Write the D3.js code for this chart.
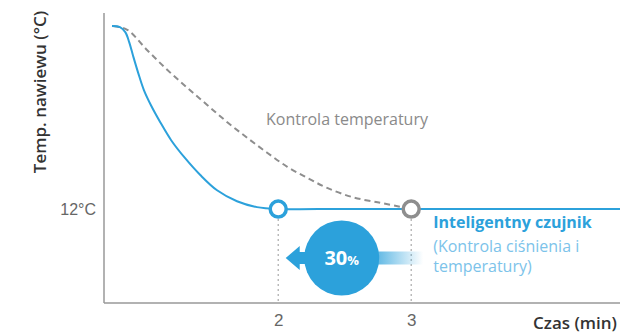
<!DOCTYPE html>
<html>
<head lang="en">
    <meta charset="UTF-8">
    <title></title>
    <style>
        body { margin: 0; background: #fff; }
        svg { font-family: "Open Sans", "Noto Sans", sans-serif; }
        .axis path { stroke: #999; stroke-width: 1.5; }
        .axis text { fill: #666; font-size: 16px; }
        .x.axis text { font-size: 17px; }
    </style>
</head>
<body>
<svg id="chart" width="620" height="336"></svg>
<script src="https://d3js.org/d3.v7.min.js" charset="utf-8"></script>
<script>

    // smart sensor curve (time in min, temp in °C)
    let smartTime = [0.75, 0.81, 0.85, 0.88, 0.91, 0.947, 0.99, 1.045, 1.113, 1.195, 1.30, 1.414, 1.54, 1.69, 1.84, 2, 2.3, 4.57];
    let smartTemp = [35.4, 35.25, 34.6, 33.3, 31.5, 29.4, 27.2, 25.2, 23.1, 20.8, 18.5, 16.35, 14.4, 13.0, 12.25, 12, 12, 12];

    // temperature control curve
    let convTime = [0.76, 0.865, 1.015, 1.165, 1.316, 1.466, 1.617, 1.767, 1.917, 2.068, 2.218, 2.368, 2.564, 2.767, 2.917, 3];
    let convTemp = [35.4, 34.9, 32.3, 29.8, 27.5, 25.3, 23.1, 21.1, 19.2, 17.4, 16.0, 14.7, 13.5, 12.8, 12.3, 12];

    let xTicks = [2, 3];
    let yTicks = [12];
    let markers = [{t: 2, v: 12, c: "#2ca1db"}, {t: 3, v: 12, c: "#8e8e8e"}];
    let saving = "30";

    let margin = {top: 13, right: 0, bottom: 33, left: 104};
    let width = 620 - margin.left - margin.right;
    let height = 336 - margin.top - margin.bottom;

    let svg = d3.select("svg");
    let canvas = svg.append("g")
        .attr("transform", "translate(" + margin.left + "," + margin.top + ")");

    let x = d3.scaleLinear().domain([0.69, 4.57]).range([0, width]);
    let y = d3.scaleLinear().domain([0, 37.05]).range([height, 0]);

    // axes
    canvas.append("g")
        .attr("class", "x axis")
        .attr("transform", "translate(0," + height + ")")
        .call(d3.axisBottom(x).tickValues(xTicks).tickSize(0).tickPadding(11).tickFormat(d3.format("d")))
        .call(g => g.select(".domain").attr("d", "M0,0H" + width));

    canvas.append("g")
        .attr("class", "y axis")
        .call(d3.axisLeft(y).tickValues(yTicks).tickSize(0).tickPadding(8).tickFormat(d => d + "°C"))
        .call(g => g.select(".domain").attr("d", "M0,0V" + height));

    svg.append("text")
        .attr("transform", "translate(46,92) rotate(-90)")
        .attr("text-anchor", "middle")
        .attr("fill", "#333")
        .attr("font-size", 17)
        .attr("font-weight", 600)
        .text("Temp. nawiewu (°C)");

    svg.append("text")
        .attr("x", 617).attr("y", 329)
        .attr("text-anchor", "end")
        .attr("fill", "#333")
        .attr("font-size", 17)
        .attr("font-weight", 600)
        .text("Czas (min)");

    // dotted drop lines
    canvas.selectAll(".drop")
        .data(markers)
        .enter().append("line")
        .attr("x1", d => x(d.t)).attr("x2", d => x(d.t))
        .attr("y1", d => y(d.v)).attr("y2", height)
        .attr("stroke", "#aaa")
        .attr("stroke-width", 1.2)
        .attr("stroke-dasharray", "2,3");

    let line = d3.line()
        .x(d => x(d[0]))
        .y(d => y(d[1]))
        .curve(d3.curveCatmullRom.alpha(0.5));

    canvas.append("path")
        .datum(d3.zip(convTime, convTemp))
        .attr("fill", "none")
        .attr("stroke", "#8e8e8e")
        .attr("stroke-width", 2)
        .attr("stroke-dasharray", "6,4")
        .attr("d", line);

    canvas.append("path")
        .datum(d3.zip(smartTime, smartTemp))
        .attr("fill", "none")
        .attr("stroke", "#2ca1db")
        .attr("stroke-width", 2)
        .attr("d", line);

    canvas.selectAll(".mark")
        .data(markers)
        .enter().append("circle")
        .attr("cx", d => x(d.t)).attr("cy", d => y(d.v))
        .attr("r", 8)
        .attr("fill", "#fff")
        .attr("stroke", d => d.c)
        .attr("stroke-width", 3.5);

    canvas.append("text")
        .attr("x", 162).attr("y", 112)
        .attr("fill", "#8a8a8a")
        .attr("font-size", 16)
        .text("Kontrola temperatury");

    // 30% badge
    let defs = svg.append("defs");
    let grad = defs.append("linearGradient").attr("id", "tail");
    grad.append("stop").attr("offset", "0%").attr("stop-color", "#2ca1db");
    grad.append("stop").attr("offset", "100%").attr("stop-color", "#2ca1db").attr("stop-opacity", 0);

    let cx = (x(2) + x(3)) / 2 - 3;
    let cy = 245;
    let badge = canvas.append("g").attr("transform", "translate(" + cx + "," + cy + ")");
    badge.append("rect")
        .attr("x", 20).attr("y", -6.5)
        .attr("width", x(3) - cx - 8).attr("height", 13)
        .attr("fill", "url(#tail)");
    badge.append("path")
        .attr("d", "M-56,0 L-42,-12 L-42,-6 L-20,-6 L-20,6 L-42,6 L-42,12 Z")
        .attr("fill", "#2ca1db");
    badge.append("circle")
        .attr("r", 37.5)
        .attr("fill", "#2ca1db");
    let t = badge.append("text")
        .attr("text-anchor", "middle")
        .attr("y", 7)
        .attr("fill", "#fff")
        .attr("font-weight", 700);
    t.append("tspan").attr("font-size", 20).text(saving);
    t.append("tspan").attr("font-size", 13).text("%");

    let note = canvas.append("text")
        .attr("x", x(3) + 22)
        .attr("font-size", 16);
    note.append("tspan").attr("x", x(3) + 22).attr("y", 215)
        .attr("fill", "#2ca1db").attr("font-weight", 700)
        .text("Inteligentny czujnik");
    note.append("tspan").attr("x", x(3) + 22).attr("y", 239)
        .attr("fill", "#7cc3ea")
        .text("(Kontrola ciśnienia i");
    note.append("tspan").attr("x", x(3) + 22).attr("y", 259)
        .attr("fill", "#7cc3ea")
        .text("temperatury)");

</script>
</body>
</html>
